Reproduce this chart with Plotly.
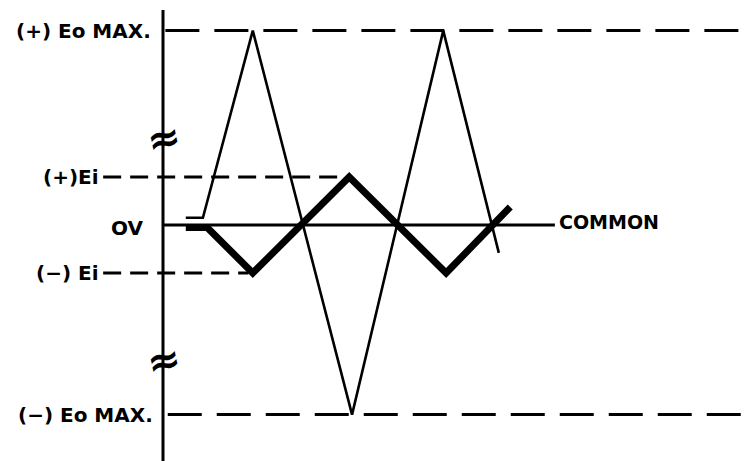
import plotly.graph_objects as go

# levels (1 unit = Ei)
eo_max = 4.05
eo_min = -3.95
ei_pos = 1.0
ei_neg = -1.0

# output waveform (thin), time in arbitrary units
out_t = [0.48, 0.84, 1.89, 3.98, 5.90, 7.07]
out_v = [0.15, 0.15, eo_max, eo_min, eo_max, -0.58]

# input waveform (thick)
in_t = [0.48, 0.93, 1.89, 3.92, 5.96, 7.31]
in_v = [-0.05, -0.05, ei_neg, ei_pos, ei_neg, 0.375]

# reference lines
ref_labels = ["(+) Eo MAX.", "(+)Ei", "(\u2212) Ei", "(\u2212) Eo MAX."]
ref_levels = [eo_max, ei_pos, ei_neg, eo_min]
ref_start = [0.05, -1.26, -1.26, 0.1]
ref_end = [12.6, 3.85, 1.8, 12.6]
ref_label_x = [-0.22, -1.31, -1.31, -0.16]
ref_dash = ["34px,15px", "18px,9px", "18px,9px", "34px,15px"]

# axis break marks
break_levels = [1.81, -2.81]

# page body adds an 8px offset, so ranges start 8px in
XR = [-3.263, 12.547]
YR = [-5.083, 4.521]

fig = go.Figure()

ink = "black"
for lvl, x0, x1, d in zip(ref_levels, ref_start, ref_end, ref_dash):
    fig.add_trace(go.Scatter(x=[x0, x1], y=[lvl, lvl], mode="lines",
                             line=dict(color=ink, width=3, dash=d),
                             hoverinfo="skip"))

# vertical axis and common line
fig.add_trace(go.Scatter(x=[0, 0], y=[4.48, -5.1], mode="lines",
                         line=dict(color=ink, width=3), hoverinfo="skip"))
fig.add_trace(go.Scatter(x=[0, 8.25], y=[0, 0], mode="lines",
                         line=dict(color=ink, width=3), hoverinfo="skip"))

fig.add_trace(go.Scatter(x=out_t, y=out_v, mode="lines",
                         line=dict(color=ink, width=2.6), hoverinfo="skip"))
fig.add_trace(go.Scatter(x=in_t, y=in_v, mode="lines",
                         line=dict(color=ink, width=7), hoverinfo="skip"))

lab_font = dict(family="DejaVu Sans", size=20, color=ink)
for txt, lvl, lx in zip(ref_labels, ref_levels, ref_label_x):
    fig.add_annotation(x=lx, y=lvl, text="<b>" + txt + "</b>", showarrow=False,
                       xanchor="right", yanchor="middle", font=lab_font)
fig.add_annotation(x=-0.38, y=-0.06, text="<b>OV</b>", showarrow=False,
                   xanchor="right", yanchor="middle", font=lab_font)
fig.add_annotation(x=8.3, y=0.06, text="<b>COMMON</b>", showarrow=False,
                   xanchor="left", yanchor="middle",
                   font=dict(family="DejaVu Sans", size=19, color=ink))

for yb in break_levels:
    fig.add_annotation(x=0.02, y=yb, text="<b>\u2248</b>", showarrow=False,
                       xanchor="center", yanchor="middle", textangle=-12,
                       font=dict(family="DejaVu Sans", size=40, color=ink))

fig.update_xaxes(range=XR, visible=False, showgrid=False, zeroline=False)
fig.update_yaxes(range=YR, visible=False, showgrid=False, zeroline=False)
fig.update_layout(width=751, height=461, margin=dict(l=0, r=0, t=0, b=0),
                  plot_bgcolor="white", paper_bgcolor="white", showlegend=False)

fig.write_html("out.html")
